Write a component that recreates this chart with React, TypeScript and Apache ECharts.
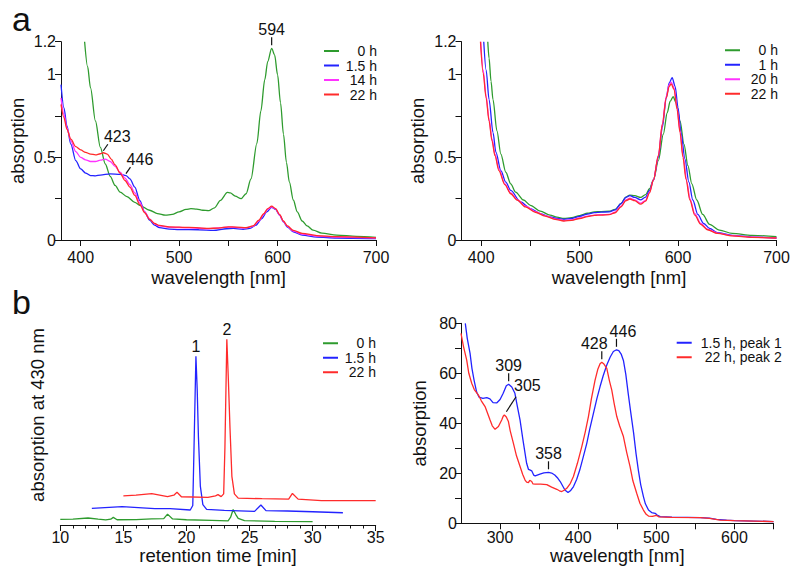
import React, { useEffect, useRef } from 'react';
import * as echarts from 'echarts';

const FONT = '"Liberation Sans", Arial, Helvetica, sans-serif';
const INK = '#111111';
const GREEN = '#2e9b2e';
const BLUE = '#2323ff';
const MAGENTA = '#ff33ff';
const RED = '#ff2b2b';
const TICK_FS = 16;
const NAME_FS = 18.5;
const LEGEND_FS = 14;
const NOTE_FS = 16;

// ---------- panel a (left): UV-vis spectra over time ----------
const aLeftNames = ['0 h', '1.5 h', '14 h', '22 h'];
const aLeft0h = [[404,1.2],[407,1.05],[410,0.92],[415,0.72],[420,0.56],[425,0.46],[430,0.385],[435,0.33],[440,0.29],[447,0.262],[455,0.228],[460,0.21],[470,0.18],[478,0.16],[486,0.15],[493,0.155],[500,0.17],[507,0.185],[512,0.19],[518,0.187],[524,0.18],[530,0.178],[536,0.195],[542,0.24],[549,0.288],[552,0.285],[557,0.265],[563,0.25],[568,0.28],[573,0.37],[579,0.585],[583,0.78],[587,0.97],[590,1.08],[594,1.16],[597,1.12],[600,1.0],[603,0.83],[606,0.64],[609,0.47],[612,0.35],[616,0.242],[620,0.17],[625,0.115],[630,0.085],[636,0.06],[645,0.042],[660,0.03],[680,0.022],[700,0.016]];
const aLeft15h = [[380,0.94],[383,0.8],[386,0.69],[390,0.58],[395,0.48],[400,0.43],[405,0.405],[410,0.39],[415,0.388],[420,0.393],[430,0.4],[440,0.397],[446,0.39],[450,0.37],[455,0.32],[460,0.24],[465,0.17],[470,0.12],[475,0.09],[480,0.075],[490,0.066],[500,0.063],[520,0.062],[535,0.058],[548,0.068],[555,0.07],[565,0.065],[572,0.07],[578,0.09],[584,0.13],[589,0.17],[594,0.198],[598,0.185],[602,0.15],[606,0.11],[610,0.078],[616,0.05],[625,0.03],[640,0.018],[660,0.012],[700,0.008]];
const aLeft14h = [[380,0.86],[383,0.76],[386,0.68],[390,0.6],[395,0.535],[400,0.5],[405,0.485],[410,0.475],[415,0.475],[420,0.483],[425,0.49],[430,0.475],[435,0.445],[440,0.41],[445,0.375],[450,0.335],[455,0.285],[460,0.228],[465,0.17],[470,0.128],[475,0.098],[480,0.085],[490,0.077],[510,0.074],[530,0.068],[550,0.078],[568,0.073],[575,0.082],[581,0.115],[586,0.155],[590,0.185],[594,0.2],[598,0.188],[602,0.152],[606,0.112],[610,0.082],[616,0.054],[625,0.036],[640,0.024],[660,0.017],[700,0.011]];
const aLeft22h = [[380,0.82],[383,0.74],[386,0.67],[390,0.61],[395,0.565],[400,0.545],[405,0.53],[410,0.52],[415,0.515],[420,0.522],[423,0.528],[427,0.52],[431,0.49],[435,0.455],[440,0.405],[445,0.36],[450,0.32],[455,0.27],[460,0.215],[465,0.165],[470,0.125],[475,0.1],[480,0.088],[490,0.08],[510,0.076],[530,0.07],[540,0.072],[550,0.08],[558,0.078],[568,0.075],[575,0.085],[581,0.12],[586,0.16],[590,0.19],[594,0.205],[598,0.19],[602,0.155],[606,0.115],[610,0.085],[616,0.058],[625,0.04],[640,0.027],[660,0.02],[700,0.013]];
const aLeftNotes: [number, number, string][] = [[594, 1.16, '594'], [423, 0.528, '423'], [446, 0.39, '446']];
const aLeftNoteKinds = ['up', 'diag', 'diag'];

// ---------- panel a (right) ----------
const aRightNames = ['0 h', '1 h', '20 h', '22 h'];
const aRight0h = [[406.7,1.2],[408,1.1],[410,0.96],[412,0.85],[416,0.66],[420,0.52],[425,0.41],[430,0.34],[435,0.29],[443,0.242],[450,0.21],[460,0.175],[470,0.15],[477,0.138],[484,0.131],[492,0.135],[500,0.148],[508,0.162],[515,0.17],[522,0.172],[530,0.174],[536,0.185],[542,0.22],[547,0.26],[551,0.272],[556,0.268],[562,0.258],[567,0.275],[571,0.31],[575,0.363],[580,0.48],[585,0.64],[589,0.77],[592,0.84],[595,0.867],[598,0.83],[602,0.72],[606,0.58],[610,0.45],[614,0.34],[619,0.242],[625,0.155],[632,0.095],[642,0.06],[655,0.04],[675,0.028],[700,0.02]];
const aRight1h = [[402.6,1.2],[405,1.03],[408,0.85],[412,0.65],[415,0.53],[420,0.42],[425,0.35],[430,0.3],[440,0.23],[450,0.19],[460,0.16],[470,0.14],[477,0.13],[484,0.125],[492,0.13],[500,0.143],[508,0.157],[515,0.166],[522,0.169],[530,0.17],[536,0.182],[542,0.22],[547,0.258],[551,0.268],[556,0.258],[562,0.243],[567,0.26],[571,0.3],[575,0.363],[580,0.5],[584,0.68],[588,0.86],[591,0.95],[594,0.982],[597,0.93],[600,0.8],[603,0.65],[607,0.49],[611,0.35],[615,0.242],[620,0.155],[626,0.1],[632,0.07],[640,0.045],[655,0.028],[675,0.018],[700,0.012]];
const aRight20h = [[399.5,1.2],[402,1.03],[405,0.87],[408,0.73],[411,0.61],[414,0.52],[418,0.43],[424,0.34],[430,0.285],[437,0.242],[445,0.205],[455,0.172],[465,0.148],[475,0.128],[484,0.118],[492,0.122],[500,0.133],[508,0.145],[515,0.151],[522,0.153],[530,0.155],[536,0.168],[542,0.205],[547,0.243],[551,0.253],[556,0.243],[562,0.223],[567,0.24],[571,0.29],[575,0.363],[580,0.51],[584,0.7],[588,0.87],[591,0.94],[593,0.955],[596,0.92],[599,0.8],[602,0.66],[605,0.51],[609,0.35],[612,0.25],[617,0.16],[623,0.1],[630,0.065],[640,0.042],[655,0.027],[675,0.017],[700,0.012]];
const aRight22h = [[399.3,1.2],[402,1.01],[405,0.86],[408,0.72],[411,0.6],[414,0.51],[418,0.42],[424,0.335],[430,0.28],[436.5,0.242],[445,0.2],[455,0.168],[465,0.145],[475,0.125],[484,0.115],[492,0.119],[500,0.13],[508,0.142],[515,0.149],[522,0.151],[530,0.153],[536,0.165],[542,0.2],[547,0.238],[551,0.248],[556,0.238],[562,0.217],[567,0.235],[571,0.285],[575,0.363],[580,0.51],[584,0.7],[588,0.86],[591,0.93],[593,0.945],[596,0.91],[599,0.79],[602,0.65],[605,0.5],[608,0.37],[612,0.242],[617,0.15],[623,0.095],[630,0.062],[640,0.04],[655,0.025],[675,0.016],[700,0.012]];

// ---------- panel b (left): HPLC traces ----------
const bLeftNames = ['0 h', '1.5 h', '22 h'];
const bLeft0h = [[10,2.9],[11,3.0],[12.2,3.6],[13,3.0],[13.6,2.6],[14.0,3.0],[14.2,3.9],[14.5,2.7],[16,2.8],[17.25,3.1],[18.2,3.3],[18.5,5.6],[18.9,3.1],[20,2.7],[22,2.4],[23.3,2.1],[23.5,4],[23.7,8.0],[23.9,5.5],[24.1,3.4],[24.6,2.2],[27,1.9],[30,1.7]];
const bLeft15h = [[12.5,8.5],[14.9,9.4],[16.5,8.8],[17.5,8.4],[18.7,8.4],[20.3,7.7],[20.5,10],[20.6,40],[20.75,86.7],[20.85,70],[20.95,45],[21.1,20],[21.3,10.5],[21.6,8],[23,7.5],[25.4,7.0],[25.9,10.3],[26.3,7.4],[28,7.2],[30,6.8],[32.4,6.3]];
const bLeft22h = [[15,15.0],[16,15.3],[17.25,16.1],[18.5,14.6],[19.0,15.3],[19.25,16.8],[19.6,14.5],[21.7,14.2],[22.3,15],[22.5,15.6],[22.75,14.6],[22.95,16],[23.05,40],[23.2,95.4],[23.32,75],[23.45,50],[23.6,25],[23.8,16],[24.1,13.8],[26,13.5],[28.1,13.3],[28.4,16.2],[28.85,13.3],[30.7,12.5],[35,12.5]];
const bLeftNotes: [number, number, string][] = [[20.75, 86.7, '1'], [23.2, 95.4, '2']];
const bLeftNoteKinds = ['plain', 'plain'];

// ---------- panel b (right): peak spectra ----------
const bRightNames = ['1.5 h, peak 1', '22 h, peak 2'];
const bRightPeak1 = [[255.5,80],[258,74],[261.6,68],[264,62],[266.7,57.3],[270,52.5],[273,50.5],[278,50],[283,50.3],[287,49.8],[291,48.3],[296,48.2],[300,49.5],[304,52],[308,55],[311,55.6],[315,54.5],[319,52],[322,47],[325.6,41.3],[329,34],[332,28],[334,24],[336.3,21.6],[338,21.4],[340.5,21],[343,19.3],[345,19],[351,19.7],[356,20.2],[362,20.4],[366,20.1],[370,19.3],[374,18],[377,16.7],[380,15],[383,13.3],[387,12.3],[390,13],[394,14.7],[398,17.5],[402,21.3],[406,26],[411,32],[415,38],[419.5,44],[424,50],[428,54.7],[432,59],[436.6,63.3],[441,66.5],[445,68.7],[449,69.4],[452,69.1],[455,67.7],[458,65],[461,59.5],[464,52],[467,45],[471,36],[474,28],[477,21.3],[480,15.5],[483.5,10.7],[486,7.8],[490,5.3],[494,4.3],[498.5,4],[501,3.3],[505,2.7],[520,2.5],[540,2.4],[556,2.3],[568,2.1],[577,1.6],[590,1.3],[600,1.1],[625,0.9],[650,0.7]];
const bRightPeak2 = [[250,76],[253,71],[257.3,65.3],[260,60],[263.7,56],[267,53.5],[272.3,51.3],[276,49],[280.8,46.7],[284,44],[287.2,41.3],[290,39],[293.6,37.6],[297.9,38.7],[300,40],[302.1,41.3],[304,42.8],[305.5,43.3],[308,42.5],[310.7,40.7],[313,37],[317.1,32],[321,27],[325.6,22.7],[329,19.5],[332,17.3],[334,16.5],[336.3,16.3],[338,17.2],[340.5,16.7],[342,15.8],[344.8,15.7],[352,15.7],[359.8,15.5],[366,14.5],[372.6,13.6],[376,13],[379,12.7],[382,13.2],[385.4,14],[390,16],[393.9,18.7],[399,24],[404.6,30.7],[409,36.5],[413.1,42.7],[417,50],[421.6,57.3],[425,61.5],[428,63.8],[430.2,64.4],[433,63.7],[436.6,62],[440,57],[443,53.3],[446,48],[449.4,42.7],[453,39],[457.9,34.7],[462,28.5],[466.4,22.7],[470,17],[474.9,12],[479,8],[483.5,5.3],[487,3.6],[490,2.9],[495,2.8],[500,3.2],[503,2.6],[520,2.4],[556,2.3],[568,2.0],[581.7,1.3],[600,1.1],[625,0.9],[650,0.7]];
const bRightNotes: [number, number, string][] = [[311, 55.6, '309'], [305.5, 43.3, '305'], [362, 20.4, '358'], [430.2, 64.4, '428'], [449, 69.4, '446']];
const bRightNoteKinds = ['up', 'diagLong', 'up', 'upLeft', 'upRight'];

// ---------- axis ticks / labels ----------
const aXTicks = [400, 450, 500, 550, 600, 650, 700];
const aXLabels = [400, 500, 600, 700];
const aYTicks = [0, 0.25, 0.5, 0.75, 1, 1.2];
const aYLabels = [0, 0.5, 1, 1.2];
const bRXTicks = [300, 350, 400, 450, 500, 550, 600, 650];
const bRXLabels = [300, 400, 500, 600];
const bRYTicks = [0, 10, 20, 30, 40, 50, 60, 70, 80];
const bRYLabels = [0, 20, 40, 60, 80];

function axis(o: any) {
  return {
    type: 'value',
    gridIndex: o.grid,
    name: o.name,
    nameLocation: 'middle',
    nameGap: o.nameGap,
    nameTextStyle: { color: INK, fontSize: NAME_FS, fontFamily: FONT },
    min: o.min,
    max: o.max,
    interval: o.interval,
    axisLine: { show: o.line !== false, onZero: false, lineStyle: { color: INK, width: 1 } },
    axisTick: o.ticks === false
      ? { show: false }
      : { show: true, length: 6, lineStyle: { color: INK, width: 1 }, ...(o.ticks ? { customValues: o.ticks } : {}) },
    minorTick: o.minor ? { show: true, splitNumber: o.minor, length: 3.5, lineStyle: { color: INK, width: 1 } } : { show: false },
    axisLabel: o.labels === false
      ? { show: false }
      : { show: true, color: INK, fontSize: TICK_FS, fontFamily: FONT, margin: o.margin, ...(o.labels ? { customValues: o.labels } : {}) },
    splitLine: { show: false },
  };
}

function line(name: string, data: number[][], color: string, gi: number, smooth: boolean) {
  return {
    type: 'line', name, data, xAxisIndex: gi, yAxisIndex: gi,
    symbol: 'none', showSymbol: false, silent: true,
    smooth: smooth ? 0.3 : false, smoothMonotone: smooth ? 'x' : undefined,
    lineStyle: { color, width: 1.3 }, itemStyle: { color },
  };
}

function noteSeries(notes: [number, number, string][], kinds: string[], gi: number) {
  return {
    type: 'custom', xAxisIndex: gi, yAxisIndex: gi, silent: true, z: 10, clip: false,
    data: notes.map((n) => [n[0], n[1]]),
    renderItem: (params: any, api: any) => {
      const i = params.dataIndex;
      const p = api.coord([api.value(0), api.value(1)]);
      const x = p[0], y = p[1];
      const text = notes[i][2];
      const kind = kinds[i];
      const ts = { fontFamily: FONT, fontSize: NOTE_FS, fill: INK, textAlign: 'center', textVerticalAlign: 'middle', align: 'center', verticalAlign: 'middle' };
      const ls = { stroke: INK, lineWidth: 1.2 };
      const children: any[] = [];
      if (kind === 'up' || kind === 'upLeft' || kind === 'upRight') {
        const dx = kind === 'upLeft' ? -7.5 : kind === 'upRight' ? 6.5 : 0;
        children.push({ type: 'line', shape: { x1: x, y1: y - 3, x2: x, y2: y - 11 }, style: ls });
        children.push({ type: 'text', style: { ...ts, text, x: x + dx, y: y - 18.5 } });
      } else if (kind === 'diag') {
        children.push({ type: 'line', shape: { x1: x, y1: y - 2, x2: x + 4.5, y2: y - 8.5 }, style: ls });
        children.push({ type: 'text', style: { ...ts, text, x: x + 14, y: y - 16 } });
      } else if (kind === 'diagLong') {
        children.push({ type: 'line', shape: { x1: x + 2, x2: x + 11.7, y1: y - 3.3, y2: y - 18.3 }, style: ls });
        children.push({ type: 'text', style: { ...ts, text, x: x + 23, y: y - 29.5 } });
      } else {
        children.push({ type: 'text', style: { ...ts, text, x, y: y - 10 } });
      }
      return { type: 'group', children };
    },
  };
}

function legend(names: string[], left: number, top: number, textWidth: number) {
  return {
    orient: 'vertical', left, top, padding: 0, itemGap: 0, itemWidth: 15, itemHeight: 2,
    icon: 'rect', selectedMode: false, data: names,
    formatter: (n: string) => `{r|${n}}`,
    textStyle: {
      color: INK, fontSize: LEGEND_FS, fontFamily: FONT, lineHeight: 14.5,
      rich: { r: { width: textWidth, align: 'right', fontSize: LEGEND_FS, fontFamily: FONT, color: INK, lineHeight: 14.5 } },
    },
  };
}

export default function App() {
  const ref = useRef<HTMLDivElement>(null);
  useEffect(() => {
    if (!ref.current) return;
    const chart = echarts.init(ref.current, undefined, { renderer: 'svg' });
    chart.setOption({
      animation: false,
      backgroundColor: '#ffffff',
      textStyle: { fontFamily: FONT },
      grid: [
        { left: 61, top: 41.7, width: 315, height: 198.3 },
        { left: 461.5, top: 41.7, width: 315, height: 198.3 },
        { left: 60.3, top: 305, width: 315.4, height: 220 },
        { left: 461, top: 323.3, width: 312.5, height: 200 },
      ],
      xAxis: [
        axis({ grid: 0, name: 'wavelength [nm]', nameGap: 28, min: 380, max: 700, ticks: aXTicks, labels: aXLabels, margin: 9 }),
        axis({ grid: 1, name: 'wavelength [nm]', nameGap: 28, min: 380, max: 700, ticks: aXTicks, labels: aXLabels, margin: 9 }),
        axis({ grid: 2, name: 'retention time [min]', nameGap: 20, min: 10, max: 35, interval: 5, minor: 5, margin: 4 }),
        axis({ grid: 3, name: 'wavelength [nm]', nameGap: 21, min: 250, max: 650, ticks: bRXTicks, labels: bRXLabels, margin: 6 }),
      ],
      yAxis: [
        axis({ grid: 0, name: 'absorption', nameGap: 34, min: 0, max: 1.2, ticks: aYTicks, labels: aYLabels, margin: 5 }),
        axis({ grid: 1, name: 'absorption', nameGap: 35, min: 0, max: 1.2, ticks: aYTicks, labels: aYLabels, margin: 5 }),
        axis({ grid: 2, name: 'absorption at 430 nm', nameGap: 13, min: 0, max: 113, line: false, ticks: false, labels: false }),
        axis({ grid: 3, name: 'absorption', nameGap: 32, min: 0, max: 80, ticks: bRYTicks, labels: bRYLabels, margin: 4 }),
      ],
      legend: [
        legend(aLeftNames, 324, 43.75, 33),
        legend(aRightNames, 725, 43, 33),
        legend(bLeftNames, 323, 336, 33),
        legend(bRightNames, 676.7, 335.5, 85),
      ],
      graphic: [
        { type: 'text', left: 12, top: 2, style: { text: 'a', fontSize: 34, fontFamily: FONT, fill: INK } },
        { type: 'text', left: 12, top: 285, style: { text: 'b', fontSize: 34, fontFamily: FONT, fill: INK } },
      ],
      series: [
        line('0 h', aLeft0h, GREEN, 0, true),
        line('1.5 h', aLeft15h, BLUE, 0, true),
        line('14 h', aLeft14h, MAGENTA, 0, true),
        line('22 h', aLeft22h, RED, 0, true),
        noteSeries(aLeftNotes, aLeftNoteKinds, 0),
        line('0 h', aRight0h, GREEN, 1, true),
        line('1 h', aRight1h, BLUE, 1, true),
        line('20 h', aRight20h, MAGENTA, 1, true),
        line('22 h', aRight22h, RED, 1, true),
        line('0 h', bLeft0h, GREEN, 2, false),
        line('1.5 h', bLeft15h, BLUE, 2, false),
        line('22 h', bLeft22h, RED, 2, false),
        noteSeries(bLeftNotes, bLeftNoteKinds, 2),
        line('1.5 h, peak 1', bRightPeak1, BLUE, 3, false),
        line('22 h, peak 2', bRightPeak2, RED, 3, false),
        noteSeries(bRightNotes, bRightNoteKinds, 3),
      ],
    });
    return () => chart.dispose();
  }, []);
  return (
    <div
      ref={ref}
      style={{ position: 'fixed', left: 0, top: 0, width: 800, height: 570, background: '#ffffff' }}
    />
  );
}
